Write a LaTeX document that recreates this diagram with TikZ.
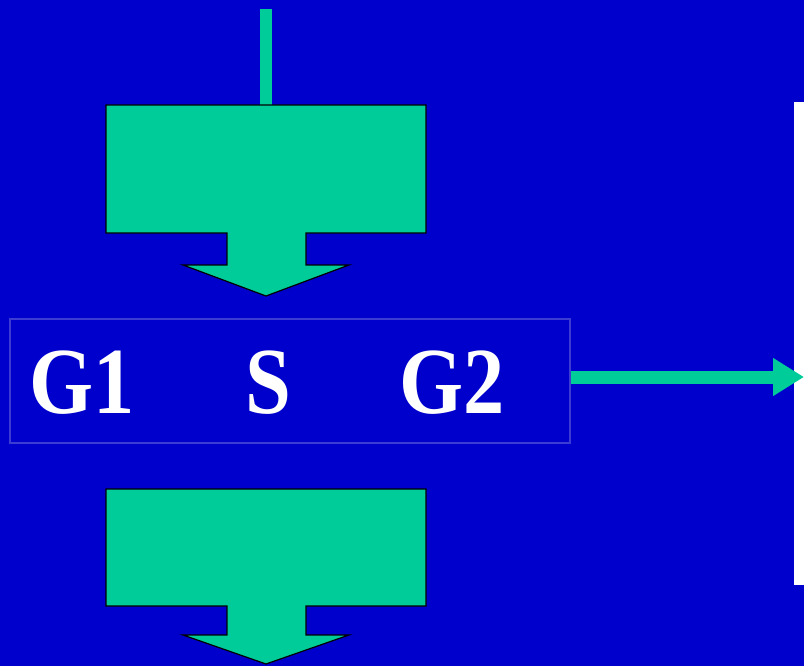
\documentclass[tikz,border=0pt]{standalone}
\usepackage{fontspec}
\setmainfont{Liberation Serif}
\usetikzlibrary{arrows.meta}
\definecolor{bgblue}{RGB}{0,0,204}
\definecolor{teal}{RGB}{0,204,153}
\definecolor{frameblue}{RGB}{60,60,210}
\tikzset{
  blockarrow/.style={fill=teal, draw=black, line width=1.2bp, line join=miter},
  bigtext/.style={text=white, font=\fontsize{95}{95}\selectfont\bfseries, inner sep=0pt, anchor=base, xscale=0.87},
  gframe/.style={draw=frameblue, line width=1.2bp, minimum width=560bp, minimum height=124bp, inner sep=0pt},
}
\begin{document}
\begin{tikzpicture}[x=1bp,y=-1bp]
\fill[bgblue] (0,0) rectangle (804,666);
\useasboundingbox (0,0) rectangle (804,666);
% white panel at right
\fill[white] (794,102) rectangle (806,585);
% top feed line
\fill[teal] (260,9) rectangle (272,106);
% first block arrow
\draw[blockarrow] (106,105) -- (426,105) -- (426,233) -- (306,233) -- (306,265) -- (349,265) -- (266,296) -- (183,265) -- (227,265) -- (227,233) -- (106,233) -- cycle;
\node[minimum width=320bp, minimum height=128bp, inner sep=0pt] (box1) at (266,169) {};
% second block arrow
\draw[blockarrow] (106,489) -- (426,489) -- (426,606) -- (306,606) -- (306,635) -- (349,635) -- (266,664) -- (183,635) -- (227,635) -- (227,606) -- (106,606) -- cycle;
\node[minimum width=320bp, minimum height=117bp, inner sep=0pt] (box2) at (266,547.5) {};
% G1 S G2 frame
\node[gframe] (gbox) at (290,381) {};
\node[bigtext] (g1) at (82.5,413) {G1};
\node[bigtext] (s) at (268,413) {S};
\node[bigtext] (g2) at (452.5,413) {G2};
% right arrow
\coordinate (rtip) at (804,377);
\draw[teal, line width=13bp, -{Triangle[length=31bp,width=36bp]}] (gbox.east |- rtip) -- (rtip);
\end{tikzpicture}
\end{document}
